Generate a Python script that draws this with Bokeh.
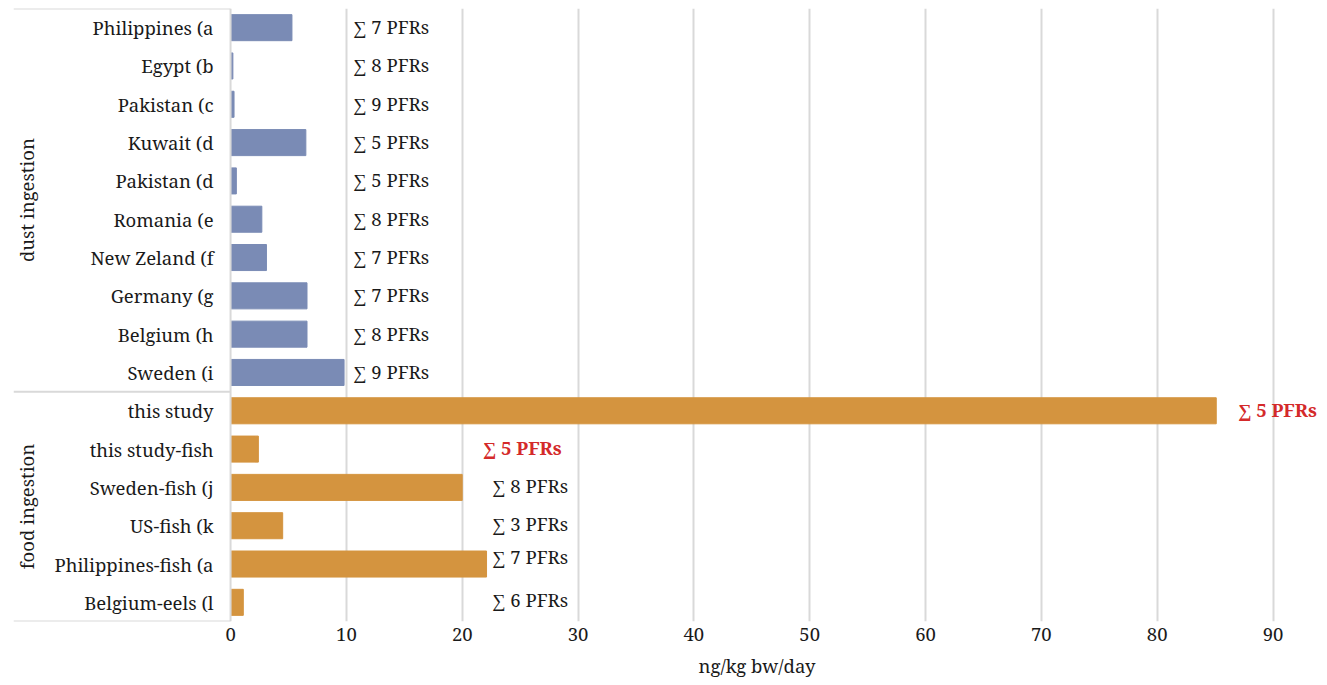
import math
from bokeh.plotting import figure
from bokeh.models import Range1d, ColumnDataSource, FixedTicker, Span, Title
from bokeh.core.properties import value
from bokeh.embed import file_html
from bokeh.resources import INLINE

# --- data -------------------------------------------------------------
groups = ["dust ingestion", "food ingestion"]

dust_sites = ["Philippines (a", "Egypt (b", "Pakistan (c", "Kuwait (d", "Pakistan (d",
              "Romania (e", "New Zeland (f", "Germany (g", "Belgium (h", "Sweden (i"]
dust_values = [5.3, 0.2, 0.3, 6.5, 0.5, 2.7, 3.1, 6.6, 6.6, 9.8]
dust_pfrs = [7, 8, 9, 5, 5, 8, 7, 7, 8, 9]

food_sites = ["this study", "this study-fish", "Sweden-fish (j", "US-fish (k",
              "Philippines-fish (a", "Belgium-eels (l"]
food_values = [85.1, 2.4, 20.0, 4.5, 22.1, 1.1]
food_pfrs = [5, 5, 8, 3, 7, 6]

x_ticks = [0, 10, 20, 30, 40, 50, 60, 70, 80, 90]
x_title = "ng/kg bw/day"

# --- styling ----------------------------------------------------------
FONT = "Noto Serif"
SIZE = "18.5px"
DUST_COLOR = "#7a8bb5"
FOOD_COLOR = "#d4943f"
GRID = "#d9d9d9"
TEXT = "#1a1a1a"
RED = "#d42a2a"

# x extent: the category panel lives at negative x, left of the zero line
X_MIN, X_MAX = -18.74, 94.1
CAT_LABEL_X = -1.47       # right edge of the category names
GROUP_LABEL_X = -17.6     # centre of the rotated group names

# label anchor (x) for the "sum of PFRs" annotations, per row
dust_label_x = [10.6] * len(dust_sites)
food_label_x = [87.0, 21.8, 22.6, 22.6, 22.6, 22.6]
food_label_dy = [-1, -2, -2, -2, -8, -3]

# --- rows: y position = row centre, top row first ---------------------
sites = dust_sites + food_sites
n = len(sites)
ys = [n - i - 0.5 for i in range(n)]
vals = dust_values + food_values
colors = [DUST_COLOR] * len(dust_sites) + [FOOD_COLOR] * len(food_sites)
labels = [f"\u2211 {k} PFRs" for k in dust_pfrs + food_pfrs]
lab_x = dust_label_x + food_label_x
lab_dy = [-1] * len(dust_sites) + food_label_dy
highlight = [False] * len(dust_sites) + [True, True, False, False, False, False]

bars = ColumnDataSource(dict(y=ys, v=vals, color=colors, site=sites,
                             cx=[CAT_LABEL_X] * n))


def label_source(keep):
    idx = [i for i, h in enumerate(highlight) if h == keep]
    return ColumnDataSource(dict(
        y=[ys[i] for i in idx], lx=[lab_x[i] for i in idx],
        dy=[lab_dy[i] for i in idx], txt=[labels[i] for i in idx]))


# group extents (in rows) for the rotated names and the panel rules
n_food = len(food_sites)
group_bounds = [(n_food, n), (0, n_food)]
groups_src = ColumnDataSource(dict(
    x=[GROUP_LABEL_X] * 2,
    y=[(a + b) / 2 for a, b in group_bounds],
    name=groups))

p = figure(
    width=1327, height=685,
    x_range=Range1d(X_MIN, X_MAX), y_range=Range1d(0, n),
    output_backend="svg", toolbar_location=None,
    min_border_left=13, min_border_right=7, min_border_top=8, min_border_bottom=64,
)
p.outline_line_color = None
p.background_fill_color = "white"
p.border_fill_color = "white"
p.yaxis.visible = False

# grid
p.ygrid.grid_line_color = None
p.xgrid.ticker = FixedTicker(ticks=x_ticks[1:])
p.xgrid.grid_line_color = GRID
p.xgrid.grid_line_width = 2

# zero line and the horizontal rules of the category panel
p.add_layout(Span(location=0, dimension="height", line_color=GRID, line_width=2))
p.segment(x0=X_MIN, x1=0, y0=[n, n_food, 0], y1=[n, n_food, 0],
          line_color=GRID, line_width=2)

p.hbar(y="y", left=0, right="v", height=0.68, color="color", source=bars)

# category and group names
p.text(x="cx", y="y", text="site", source=bars,
       text_font=value(FONT), text_font_size=SIZE, text_color=TEXT,
       text_baseline="middle", text_align="right")
p.text(x="x", y="y", text="name", source=groups_src, angle=math.pi / 2,
       text_font=value(FONT), text_font_size=SIZE, text_color=TEXT,
       text_baseline="middle", text_align="center")

# sum-of-PFRs annotations
p.text(x="lx", y="y", text="txt", y_offset="dy", source=label_source(False),
       text_font=value(FONT), text_font_size=SIZE, text_color=TEXT,
       text_baseline="middle", text_align="left")
p.text(x="lx", y="y", text="txt", y_offset="dy", source=label_source(True),
       text_font=value(FONT), text_font_size=SIZE, text_color=RED,
       text_font_style="bold", text_baseline="middle", text_align="left")

# x axis (tick labels only; its title sits under the value scale)
xa = p.xaxis[0]
xa.ticker = FixedTicker(ticks=x_ticks)
xa.axis_line_color = None
xa.major_tick_line_color = None
xa.minor_tick_line_color = None
xa.major_label_standoff = 0
xa.major_label_text_font = FONT
xa.major_label_text_font_size = SIZE
xa.major_label_text_color = TEXT

p.add_layout(Title(text=x_title, align="left", offset=685, standoff=14,
                   text_font=FONT, text_font_size=SIZE, text_font_style="normal",
                   text_color=TEXT), "below")

open("out.html", "w").write(file_html(p, INLINE))
